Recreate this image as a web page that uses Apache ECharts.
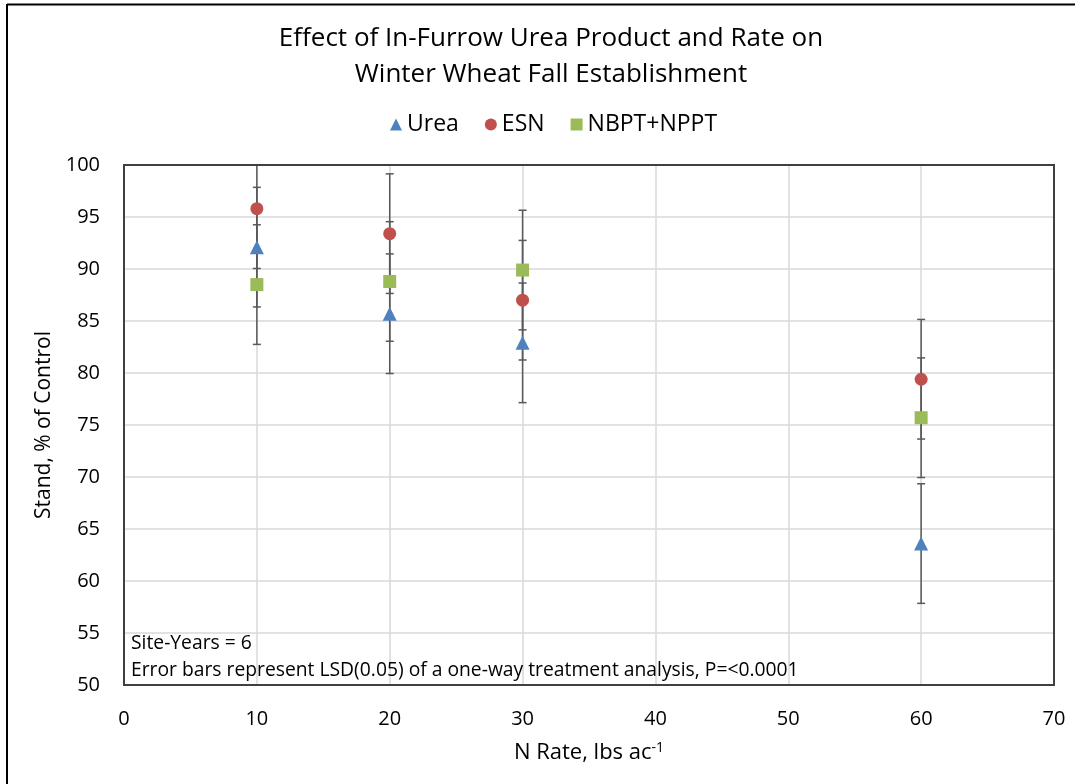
<!DOCTYPE html>
<html>
<head>
<meta charset="utf-8">
<script src="https://cdn.jsdelivr.net/npm/echarts@6/dist/echarts.min.js"></script>
<style>
  html, body { margin: 0; padding: 0; background: #fff; }
  #chart { width: 1075px; height: 784px; }
</style>
</head>
<body>
<div id="chart"></div>
<script>
// ---- data ----
var rates = [10, 20, 30, 60];
var ureaValues = [92.1, 85.7, 82.9, 63.6];
var esnValues = [95.8, 93.4, 87.0, 79.4];
var nbptValues = [88.5, 88.8, 89.9, 75.7];
var lsd = [5.75, 5.75, 5.75, 5.75];
var xTicks = [0, 10, 20, 30, 40, 50, 60, 70];
var yTicks = [50, 55, 60, 65, 70, 75, 80, 85, 90, 95, 100];
var seriesNames = ['Urea', 'ESN', 'NBPT+NPPT'];

var FONT = '"Open Sans", sans-serif';
var colors = ['#4F81BD', '#C0504D', '#9BBB59'];

function pts(vals) {
  return rates.map(function (r, i) { return [r, vals[i]]; });
}
function errPts(vals) {
  return rates.map(function (r, i) { return [r, vals[i] - lsd[i], vals[i] + lsd[i]]; });
}

function renderErr(params, api) {
  var x = api.value(0);
  var lo = api.coord([x, api.value(1)]);
  var hi = api.coord([x, api.value(2)]);
  var w = 4;
  var st = { stroke: '#595959', lineWidth: 1.5 };
  return {
    type: 'group',
    children: [
      { type: 'line', shape: { x1: lo[0], y1: lo[1], x2: hi[0], y2: hi[1] }, style: st },
      { type: 'line', shape: { x1: lo[0] - w, y1: lo[1], x2: lo[0] + w, y2: lo[1] }, style: st },
      { type: 'line', shape: { x1: hi[0] - w, y1: hi[1], x2: hi[0] + w, y2: hi[1] }, style: st }
    ]
  };
}

var allVals = [ureaValues, esnValues, nbptValues];
var symbols = ['triangle', 'circle', 'rect'];
var series = [];
allVals.forEach(function (v, k) {
  series.push({
    type: 'custom',
    name: seriesNames[k] + ' err',
    renderItem: renderErr,
    data: errPts(v),
    encode: { x: 0, y: [1, 2] },
    clip: true,
    z: 2,
    silent: true
  });
});
allVals.forEach(function (v, k) {
  series.push({
    type: 'scatter',
    name: seriesNames[k],
    data: pts(v),
    symbol: symbols[k],
    symbolSize: k === 0 ? 14 : 13,
    itemStyle: { color: colors[k], opacity: 1 },
    z: 5
  });
});

var chart = echarts.init(document.getElementById('chart'), null, { renderer: 'canvas' });
chart.setOption({
  animation: false,
  backgroundColor: '#fff',
  textStyle: { fontFamily: FONT },
  title: {
    text: 'Effect of In-Furrow Urea Product and Rate on\nWinter Wheat Fall Establishment',
    left: 546,
    textAlign: 'center',
    top: 16,
    textStyle: { fontFamily: FONT, fontSize: 26, fontWeight: 'normal', color: '#000', lineHeight: 36 }
  },
  legend: {
    data: seriesNames,
    top: 108,
    left: 385,
    itemWidth: 12,
    itemHeight: 12,
    itemGap: 26,
    textStyle: { fontFamily: FONT, fontSize: 23, color: '#000' }
  },
  grid: { left: 124, top: 165, right: 21, bottom: 99, containLabel: false },
  xAxis: {
    type: 'value',
    min: 0, max: 70, interval: 10,
    axisLine: { show: false },
    axisTick: { show: false },
    splitLine: { show: true, lineStyle: { color: '#D9D9D9', width: 1.5 } },
    axisLabel: { fontFamily: FONT, fontSize: 20, color: '#000', margin: 24,
      formatter: function (v) { return xTicks.indexOf(v) >= 0 ? String(v) : ''; } },
    name: 'N Rate, lbs ac{sup|-1}',
    nameLocation: 'middle',
    nameGap: 56,
    nameTextStyle: { fontFamily: FONT, fontSize: 22, color: '#000',
      rich: { sup: { fontFamily: FONT, fontSize: 14, verticalAlign: 'top', padding: [0, 0, 10, 0], color: '#000' } } }
  },
  yAxis: {
    type: 'value',
    min: 50, max: 100, interval: 5,
    axisLine: { show: false },
    axisTick: { show: false },
    splitLine: { show: true, lineStyle: { color: '#D9D9D9', width: 1.5 } },
    axisLabel: { fontFamily: FONT, fontSize: 20, color: '#000', margin: 24,
      formatter: function (v) { return yTicks.indexOf(v) >= 0 ? String(v) : ''; } },
    name: 'Stand, % of Control',
    nameLocation: 'middle',
    nameGap: 64,
    nameTextStyle: { fontFamily: FONT, fontSize: 21, color: '#000' }
  },
  graphic: [
    { type: 'rect', shape: { x: 124, y: 165, width: 930, height: 520 },
      style: { fill: null, stroke: '#404040', lineWidth: 2 }, z: 10, silent: true },
    { type: 'line', shape: { x1: 7, y1: 4.5, x2: 1075, y2: 4.5 }, style: { stroke: '#000', lineWidth: 2 }, silent: true },
    { type: 'line', shape: { x1: 7, y1: 4, x2: 7, y2: 784 }, style: { stroke: '#000', lineWidth: 2 }, silent: true },
    { type: 'text', left: 131, top: 634, style: { text: 'Site-Years = 6', font: '19.3px ' + FONT, fill: '#000' }, z: 11 },
    { type: 'text', left: 131, top: 661, style: { text: 'Error bars represent LSD(0.05) of a one-way treatment analysis, P=<0.0001', font: '19.3px ' + FONT, fill: '#000' }, z: 11 }
  ],
  series: series
});
</script>
</body>
</html>
